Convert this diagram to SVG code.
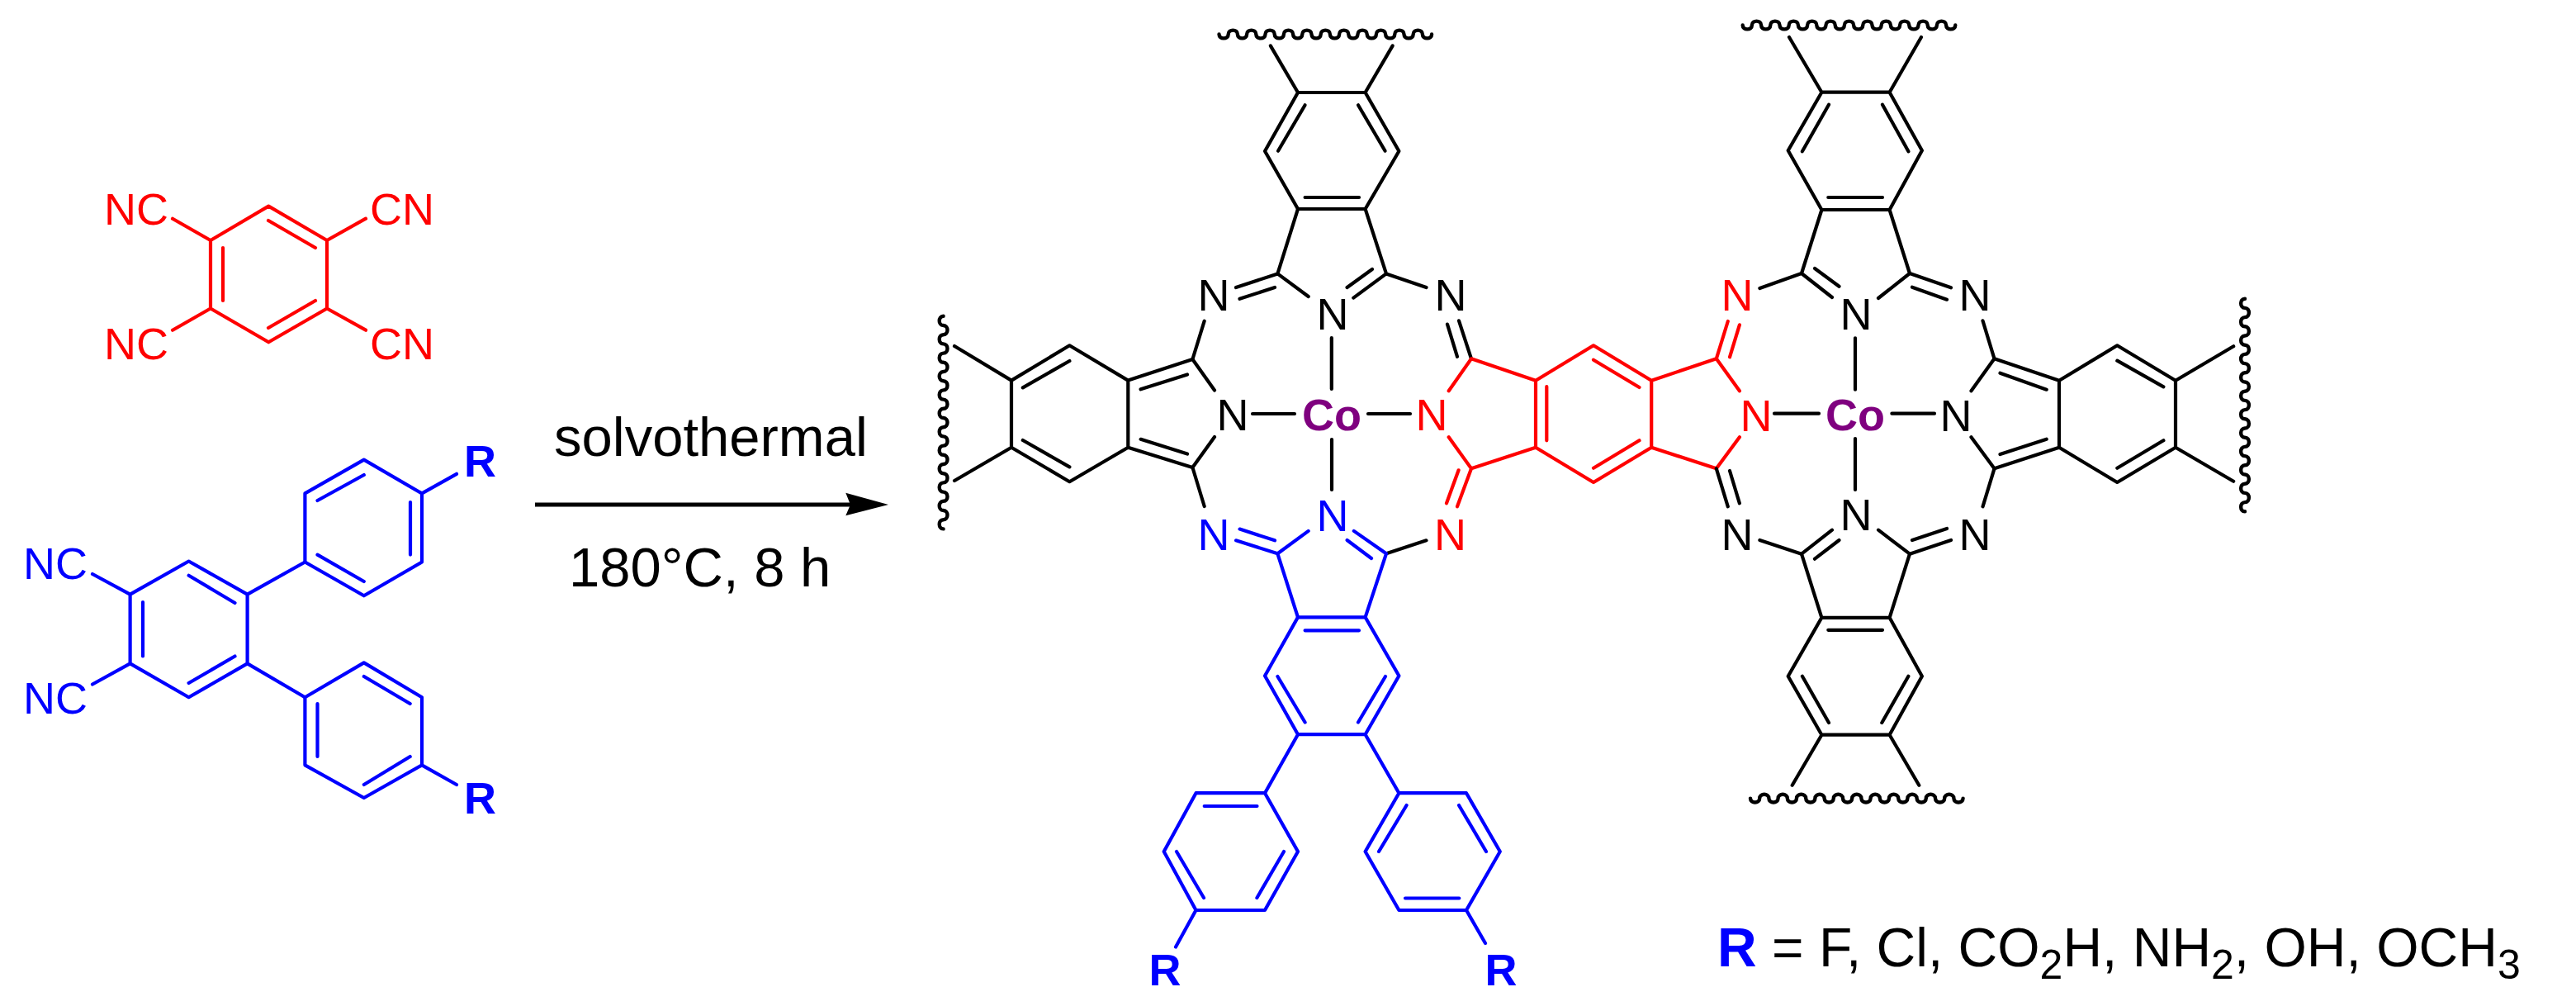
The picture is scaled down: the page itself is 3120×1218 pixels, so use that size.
<svg xmlns="http://www.w3.org/2000/svg" xmlns:xlink="http://www.w3.org/1999/xlink" width="3120" height="1218" viewBox="0 0 3120 1218">
<style>
text{font-family:"Liberation Sans",Arial,sans-serif;font-size:54px}
.m{text-anchor:middle}
.b{font-weight:700}
.k{fill:#000}.r{fill:#f00}.u{fill:#00f}.p{fill:#7f007f}
.sk,.sr,.su{fill:none;stroke-width:4.2;stroke-linecap:round;stroke-linejoin:round}
.sk{stroke:#000}.sr{stroke:#f00}.su{stroke:#00f}
.w{fill:none;stroke:#000;stroke-width:4.4;stroke-linecap:round}
</style>
<defs>
<path id="wave" d="M0 0c0 6.5 11.2 6.5 11.2 0c0 -6.5 11.2 -6.5 11.2 0c0 6.5 11.2 6.5 11.2 0c0 -6.5 11.2 -6.5 11.2 0c0 6.5 11.2 6.5 11.2 0c0 -6.5 11.2 -6.5 11.2 0c0 6.5 11.2 6.5 11.2 0c0 -6.5 11.2 -6.5 11.2 0c0 6.5 11.2 6.5 11.2 0c0 -6.5 11.2 -6.5 11.2 0c0 6.5 11.2 6.5 11.2 0c0 -6.5 11.2 -6.5 11.2 0c0 6.5 11.2 6.5 11.2 0c0 -6.5 11.2 -6.5 11.2 0c0 6.5 11.2 6.5 11.2 0c0 -6.5 11.2 -6.5 11.2 0c0 6.5 11.2 6.5 11.2 0c0 -6.5 11.2 -6.5 11.2 0c0 6.5 11.2 6.5 11.2 0c0 -6.5 11.2 -6.5 11.2 0c0 6.5 11.2 6.5 11.2 0c0 -6.5 11.2 -6.5 11.2 0c0 6.5 11.2 6.5 11.2 0"/>
</defs>

<g id="tetracyanobenzene">
<path class="sr" d="M325.3 249.6L396 291V373.5L325.3 414.3L255 373.5V291ZM270 300V364M325 267L382 300M325 397L382 364M209 264.7L255 291M443 264.7L396 291M209 399.7L255 373.5M443 399.7L396 373.5"/>
<text class="r" x="126" y="271.5">NC</text>
<text class="r" x="448" y="271.5">CN</text>
<text class="r" x="126" y="435">NC</text>
<text class="r" x="448" y="435">CN</text>
</g>

<g id="diaryl-phthalonitrile">
<path class="su" d="M228.6 679.5L299.6 719.7V803.4L228.6 844.2L157.6 803.4V719.7ZM173 729V794.5M228.6 696.7L284.5 730M228.6 827L284.5 794.5M112 695L157.6 719.7M112 828.5L157.6 803.4M299.6 719.7L369.4 680.5M299.6 803.4L369.4 844.2"/>
<path class="su" d="M369.4 680.5V597.4L440.8 556.6L511 597.4V680.5L440.8 721.3ZM384.5 606L440.8 575M497 608V671.6M384.5 671.6L440.8 704M511 597.4L553 573.8"/>
<path class="su" d="M369.4 844.2V926.3L440.8 966L511 926.3V844.2L440.8 802.4ZM384.5 852V916M440.8 819L496.7 852M440.8 950L496.7 916M511 926.3L553 950"/>
<text class="u" x="28" y="701.4">NC</text>
<text class="u" x="28" y="864">NC</text>
<text class="u b" x="562" y="577">R</text>
<text class="u b" x="562" y="985">R</text>
</g>

<g id="reaction-arrow">
<path d="M648 611H1040" stroke="#000" stroke-width="5" fill="none"/>
<path d="M1076 611L1024.3 596.7L1030 611L1024.3 624.3Z" fill="#000"/>
<text class="k" x="671" y="551.7" style="font-size:67px">solvothermal</text>
<text class="k" x="689" y="710" style="font-size:67px">180°C, 8 h</text>
</g>

<g id="cobalt-phthalocyanine-polymer">
<g id="wavy-ends">
<use class="w" xlink:href="#wave" href="#wave" x="1476.5" y="41.5"/>
<use class="w" xlink:href="#wave" href="#wave" x="2110.7" y="30.5"/>
<use class="w" xlink:href="#wave" href="#wave" x="2120" y="966.6"/>
<use class="w" xlink:href="#wave" href="#wave" transform="translate(1142.6 382.8) rotate(90)"/>
<use class="w" xlink:href="#wave" href="#wave" transform="translate(2719 361.7) rotate(90)"/>
</g>

<g id="pc1-black">
<path class="sk" d="M1572 112H1653.6L1694.4 183L1653.6 253H1572L1532 183ZM1580.6 127.3L1548 182.7M1645 127.3L1677.6 182.7M1580.6 239H1646M1538.8 55.4L1572 112M1686.7 55.4L1653.6 112"/>
<path class="sk" d="M1584.7 359L1547.4 331.4L1572 253M1653.6 253L1679 331.4L1639.3 360.6M1662 326L1631.6 348M1547.4 331.4L1497 348M1501.5 361.8L1544 348M1679 331.4L1727.5 348M1458.7 388.7L1444.4 435M1767 388.3L1782 434.3M1753 392.6L1765 431.8"/>
<path class="sk" d="M1612.8 409V471M1517 501H1568M1657 501H1708M1613 532V593"/>
<path class="sk" d="M1471 472.5L1444.4 435L1366.3 460.6L1295.4 418.3L1225 460.6V541.7L1295.4 583.2L1366.3 541.7L1444.4 566L1471 529M1366.3 460.6V541.7M1438 453.5L1381.6 471.3M1438 549.6L1381.6 531.8M1295.4 437L1238.8 469.4M1238.8 533L1295.4 565.4M1225 460.6L1156 419M1225 541.7L1156 582M1444.4 566L1458.7 613M1679 670.3L1727.5 654.3"/>
</g>

<g id="pc1-blue">
<path class="su" d="M1584.7 642.9L1547.4 670.3L1572 747.3H1653.6L1679 670.3L1639.8 642.9M1661 676L1631.6 654M1547.4 670.3L1497 654.3M1544 654.3L1501.5 640.6"/>
<path class="su" d="M1572 747.3L1532 818.2L1572 889.2H1653.6L1694.4 818.2L1653.6 747.3M1580.6 763.3H1646M1547.4 819L1580.6 874.5M1678 819L1645 874.5M1572 889.2L1532 960.2M1653.6 889.2L1694.4 960.2"/>
<path class="su" d="M1532 960.2H1448.5L1409.7 1031L1448.5 1102H1532L1572 1031ZM1458.7 976H1522.5M1425 1031L1458 1087M1555 1031L1522.4 1087M1448.5 1102L1424 1146.5"/>
<path class="su" d="M1694.4 960.2H1776L1816.8 1031L1776 1102H1694.4L1653.6 1031ZM1703.6 975L1670 1031M1767 975L1800 1031M1702 1087.5H1767.3M1776 1102L1799 1142"/>
</g>

<g id="bridge-red">
<path class="sr" d="M1754.7 473.3L1782 434.3L1860 460.7L1930 418.3L2000.2 460.7L2078.8 434.3L2106.9 473.3M1754.7 529.3L1782 567.3L1860 541.7L1930 584L2000.2 541.7L2078.8 567.3L2106.9 529.3M1860 460.7V541.7M2000.2 460.7V541.7M1873.3 468V533.3M1930 435.7L1985.5 469M1930 566.7L1985.5 533.3M2092.8 389L2078.8 434.3M2106.9 393.3L2095 432.3M1782 567.3L1765 613.3M1766.6 569.3L1752 609.3"/>
</g>

<g id="pc2-black">
<path class="sk" d="M2206.4 111.7H2288.6L2327.9 182.3L2288.6 254H2206.4L2165.7 182.3ZM2215 126.7L2182.9 183.3M2280 126.7L2311.4 183.3M2214.3 239H2280M2167 45L2206.4 111.7M2327 45L2288.6 111.7"/>
<path class="sk" d="M2219 360L2182 331L2206.4 254M2288.6 254L2313 331L2275 361M2198 325L2227.5 346.7M2131.4 349L2182 331M2313 331L2363 348.3M2316 347.7L2358 362.7M2401.5 388.3L2415.5 434.3L2387.5 473.3M2387.5 529.3L2415.5 567.3L2401.5 613.3"/>
<path class="sk" d="M2247 409.3V471.7M2149 500.7H2203M2291.4 500.7H2343M2247 531V593"/>
<path class="sk" d="M2415.5 434.3L2494 460.7L2564.3 418.3L2635 460.7V541.7L2564.3 584L2494 541.7L2415.5 567.3M2494 460.7V541.7M2422.5 451.7L2478.7 471.7M2422.5 550L2478.7 531.7M2564.3 436.7L2620.4 468.3M2620.4 533.3L2564.3 566.7M2635 460.7L2705.2 419.3M2635 541.7L2705.2 582.7"/>
<path class="sk" d="M2078.8 567.3L2092.8 613.3M2095 570L2106.9 609.3M2131.4 654L2182 670.7M2219 641.7L2182 670.7M2198 676.7L2227.5 654M2275 641.7L2313 670.7L2363 654M2316 654L2358 640"/>
<path class="sk" d="M2182 670.7L2206.4 747.8H2288.6L2313 670.7M2206.4 747.8L2165.7 818.8L2206.4 889.7H2288.6L2327.9 818.8L2288.6 747.8M2214.3 762.8H2280M2182.9 818.8L2215 875M2311.4 818.8L2279.3 875M2206.4 889.7L2170.7 950.8M2288.6 889.7L2324.3 950.8"/>
</g>

<g id="atoms">
<text class="k m" x="1470" y="375.6">N</text>
<text class="k m" x="1614" y="399.4">N</text>
<text class="k m" x="1757" y="375.6">N</text>
<text class="k m" x="1493" y="520.8">N</text>
<text class="r m" x="1734" y="521">N</text>
<text class="u m" x="1470" y="665.7">N</text>
<text class="u m" x="1614" y="643">N</text>
<text class="r m" x="1756.5" y="665.7">N</text>
<text class="r m" x="2104" y="376">N</text>
<text class="k m" x="2248" y="399.3">N</text>
<text class="k m" x="2392" y="376">N</text>
<text class="r m" x="2127" y="521.7">N</text>
<text class="k m" x="2369" y="521.7">N</text>
<text class="k m" x="2248" y="642.3">N</text>
<text class="k m" x="2104" y="665.7">N</text>
<text class="k m" x="2392" y="665.7">N</text>
<text class="p b m" x="1613" y="521">Co</text>
<text class="p b m" x="2247" y="521">Co</text>
<text class="u b m" x="1411" y="1193">R</text>
<text class="u b m" x="1818" y="1193">R</text>
</g>
</g>

<g id="legend">
<text x="2080" y="1169.6" style="font-size:66px"><tspan class="u b">R</tspan><tspan class="k"> = F, Cl, CO</tspan><tspan class="k" dy="15" style="font-size:50px">2</tspan><tspan class="k" dy="-15">H, NH</tspan><tspan class="k" dy="15" style="font-size:50px">2</tspan><tspan class="k" dy="-15">, OH, OCH</tspan><tspan class="k" dy="15" style="font-size:50px">3</tspan></text>
</g>
</svg>
